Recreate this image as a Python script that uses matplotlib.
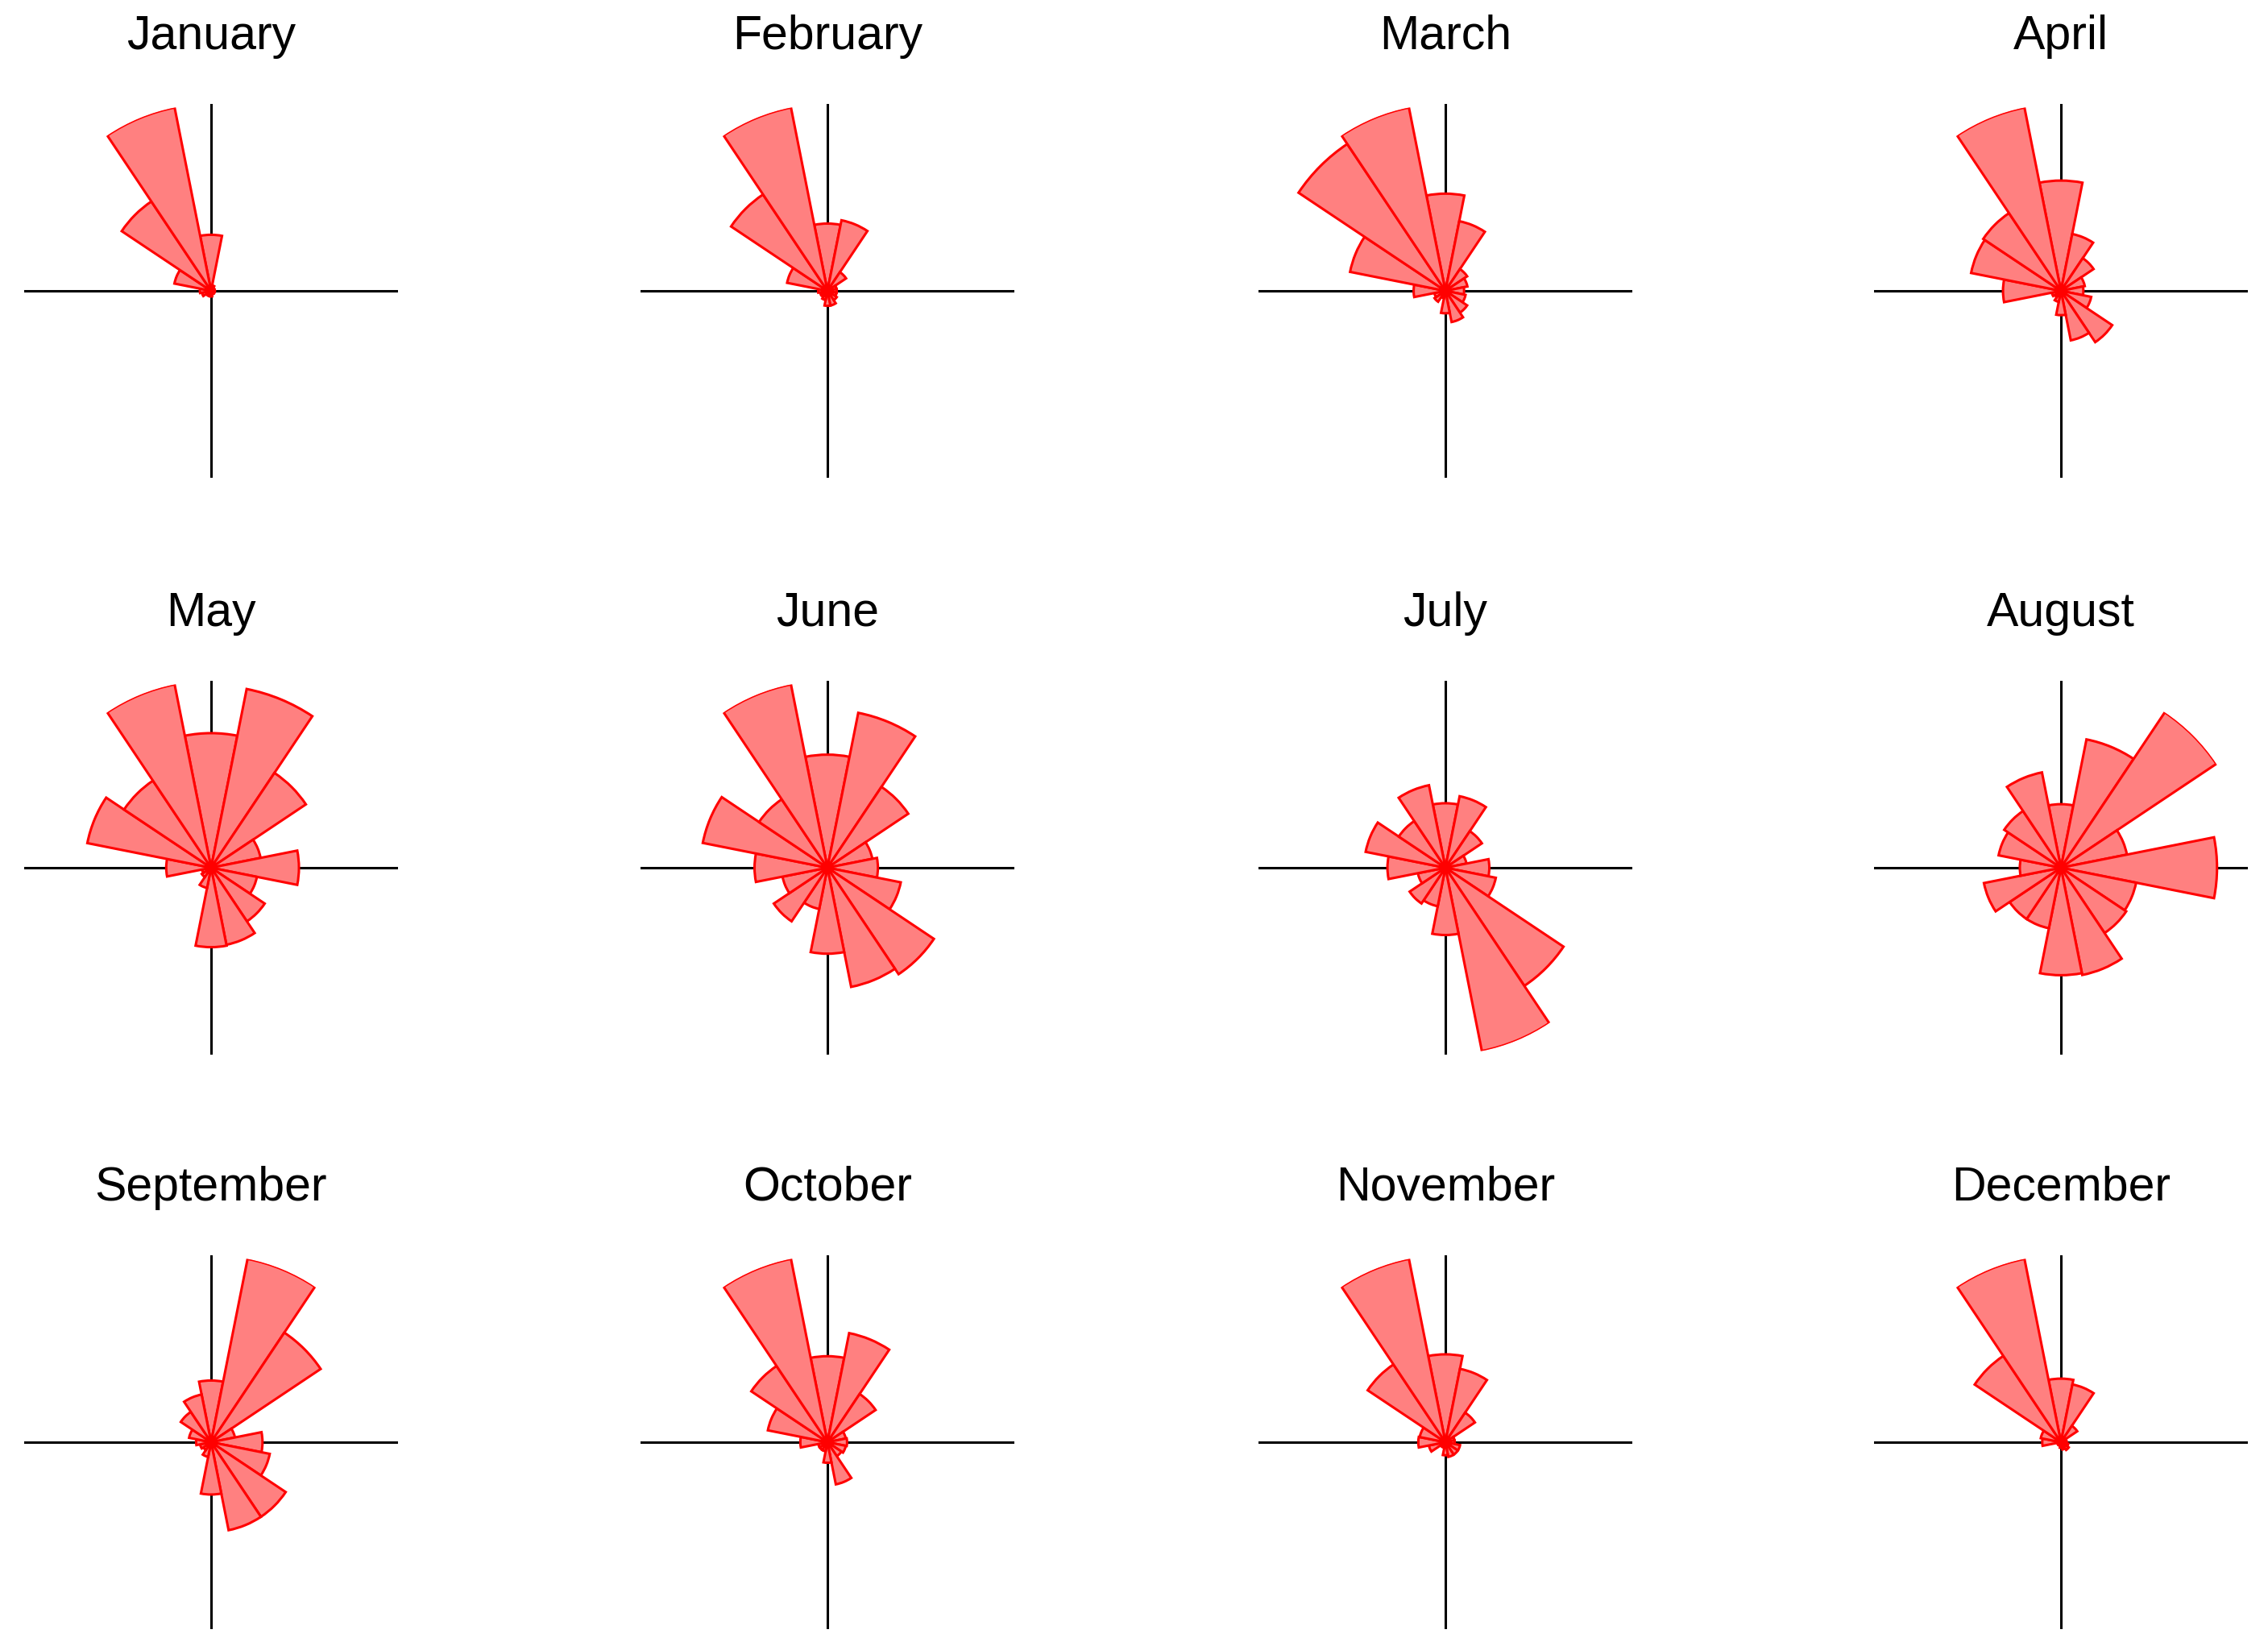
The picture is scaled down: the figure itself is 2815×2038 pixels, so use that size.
import numpy as np
import matplotlib
matplotlib.use("Agg")
import matplotlib.pyplot as plt

plt.rcParams['font.family'] = ['Liberation Sans', 'DejaVu Sans']

# ---- data: relative sector lengths (largest sector of each month = 1) ----
months = ['January', 'February', 'March', 'April', 'May', 'June',
          'July', 'August', 'September', 'October', 'November', 'December']
directions = ['N', 'NNE', 'NE', 'ENE', 'E', 'ESE', 'SE', 'SSE',
              'S', 'SSW', 'SW', 'WSW', 'W', 'WNW', 'NW', 'NNW']

jan = [0.30, 0.03, 0.02, 0.02, 0.02, 0.02, 0.02, 0.02, 0.03, 0.03, 0.03, 0.05, 0.06, 0.20, 0.575, 1.0]
feb = [0.36, 0.385, 0.12, 0.05, 0.05, 0.05, 0.06, 0.08, 0.08, 0.05, 0.04, 0.04, 0.05, 0.22, 0.62, 1.0]
mar = [0.52, 0.38, 0.14, 0.12, 0.10, 0.11, 0.14, 0.17, 0.12, 0.04, 0.07, 0.06, 0.17, 0.52, 0.945, 1.0]
apr = [0.59, 0.31, 0.21, 0.13, 0.12, 0.165, 0.33, 0.27, 0.13, 0.06, 0.04, 0.05, 0.31, 0.49, 0.50, 1.0]
may = [0.72, 0.975, 0.61, 0.27, 0.47, 0.25, 0.345, 0.42, 0.425, 0.11, 0.06, 0.05, 0.24, 0.675, 0.56, 1.0]
jun = [0.605, 0.845, 0.52, 0.245, 0.27, 0.40, 0.685, 0.65, 0.46, 0.225, 0.345, 0.245, 0.39, 0.68, 0.44, 1.0]
jul = [0.345, 0.39, 0.235, 0.115, 0.235, 0.275, 0.76, 1.0, 0.36, 0.21, 0.23, 0.15, 0.31, 0.435, 0.30, 0.45]
aug = [0.34, 0.70, 1.0, 0.36, 0.835, 0.41, 0.42, 0.585, 0.575, 0.33, 0.33, 0.42, 0.22, 0.34, 0.365, 0.52]
sep = [0.33, 1.0, 0.705, 0.13, 0.275, 0.32, 0.48, 0.48, 0.28, 0.08, 0.05, 0.06, 0.08, 0.12, 0.195, 0.26]
oct_ = [0.46, 0.595, 0.31, 0.10, 0.105, 0.10, 0.09, 0.23, 0.11, 0.05, 0.05, 0.05, 0.145, 0.325, 0.49, 1.0]
nov = [0.47, 0.40, 0.19, 0.05, 0.05, 0.08, 0.08, 0.08, 0.07, 0.03, 0.03, 0.09, 0.145, 0.14, 0.50, 1.0]
dec = [0.34, 0.315, 0.105, 0.03, 0.03, 0.04, 0.05, 0.04, 0.03, 0.02, 0.02, 0.02, 0.10, 0.11, 0.555, 1.0]

month_values = [jan, feb, mar, apr, may, jun, jul, aug, sep, oct_, nov, dec]

# ---- layout (pixels of the 2815 x 2038 canvas) ----
W, H = 2815, 2038
col_x = [262, 1027, 1794, 2558]
row_y = [361, 1077, 1790]
half = 232

fig = plt.figure(figsize=(W / 100, H / 100), dpi=100)

theta = np.deg2rad(np.arange(len(directions)) * 360 / len(directions))
width = 2 * np.pi / len(directions)

for i, (name, vals) in enumerate(zip(months, month_values)):
    r, c = divmod(i, 4)
    cx, cy = col_x[c], row_y[r]
    ax = fig.add_axes([(cx - half) / W, 1 - (cy + half) / H, 2 * half / W, 2 * half / H],
                      projection='polar')
    ax.set_theta_zero_location('N')
    ax.set_theta_direction(-1)

    ax.bar(theta, vals, width=width, bottom=0, align='center',
           color='#ff8080', edgecolor='#ff0000', linewidth=2.2, zorder=3)
    ax.set_ylim(0, max(vals))

    # only the four compass lines, no labels
    ax.set_thetagrids([0, 90, 180, 270], labels=['', '', '', ''])
    ax.yaxis.set_ticks([])
    ax.yaxis.grid(False)
    ax.xaxis.grid(True, color='black', linewidth=2.2, linestyle='-')
    ax.tick_params(length=0)
    ax.spines['polar'].set_visible(False)
    ax.patch.set_visible(False)

    ax.set_title(name, fontsize=42.5, pad=49)

fig.savefig('out.png', dpi=100)
